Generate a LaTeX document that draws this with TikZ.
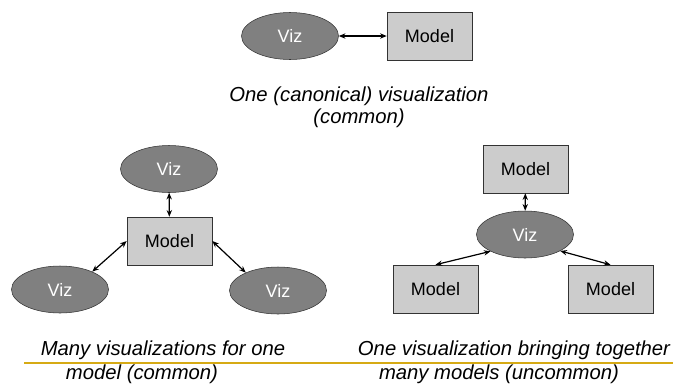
\documentclass[tikz,border=0pt]{standalone}
\usepackage{fontspec}
\setmainfont{Liberation Sans}
\usepackage{tikz}
\usetikzlibrary{arrows.meta, shapes.geometric}

\definecolor{vizgray}{RGB}{128,128,128}
\definecolor{modgray}{RGB}{204,204,204}
\definecolor{rulegold}{RGB}{214,170,20}

\begin{document}
\begin{tikzpicture}[x=0.75pt, y=-0.75pt,
            viz/.style={draw=black!80, fill=vizgray, ellipse, inner sep=0pt, minimum width=72.75pt, minimum height=35.25pt, text=white, font=\fontsize{13.5}{16}\selectfont},
            model/.style={draw=black!80, fill=modgray, rectangle, inner sep=0pt, minimum width=63.75pt, minimum height=36pt, font=\fontsize{13.5}{16}\selectfont},
            caption/.style={font=\fontsize{15.2}{16.5}\selectfont\itshape, inner sep=0pt, anchor=base},
            link/.style={{Stealth[length=5pt, width=4pt]}-{Stealth[length=5pt, width=4pt]}, line width=0.9pt}
        ]
        \useasboundingbox (0,0) rectangle (673,383);

        % --- one viz, one model ---
        \node[viz] (vizT) at (290, 36) {Viz};
        \node[model] (modT) at (429.5, 36) {Model};
        \draw[link] (vizT)--(modT);
        \node[caption, align=center] (capT) at (359, 123) {One (canonical) visualization\\(common)};

        % --- many viz, one model ---
        \node[model] (modL) at (169.5, 241) {Model};
        \node[viz] (vizLt) at (169, 169) {Viz};
        \node[viz] (vizLl) at (60, 289.5) {Viz};
        \node[viz] (vizLr) at (278, 290.5) {Viz};
        \draw[link] (vizLt)--(modL);
        \draw[link] (modL.west)--(vizLl.29);
        \draw[link] (modL.east)--(vizLr.151);
        \node[caption] (capL1) at (163, 355.5) {Many visualizations for one};
        \node[caption] (capL2) at (142, 379) {model (common)};

        % --- one viz, many models ---
        \node[viz] (vizR) at (525, 234.5) {Viz};
        \node[model] (modRt) at (525.5, 169) {Model};
        \node[model] (modRl) at (435.5, 289) {Model};
        \node[model] (modRr) at (610.5, 289) {Model};
        \draw[link] (modRt)--(vizR);
        \draw[link] (vizR.206)--(modRl.north);
        \draw[link] (vizR.335)--(modRr.north);
        \node[caption] (capR1) at (514, 355.5) {One visualization bringing together};
        \node[caption] (capR2) at (499, 379) {many models (uncommon)};

        % --- rule ---
        \coordinate (ruleA) at (24, 363);
        \coordinate (ruleB) at (673, 363);
        \draw[rulegold, line width=1.2pt] (ruleA)--(ruleB);
\end{tikzpicture}
\end{document}
